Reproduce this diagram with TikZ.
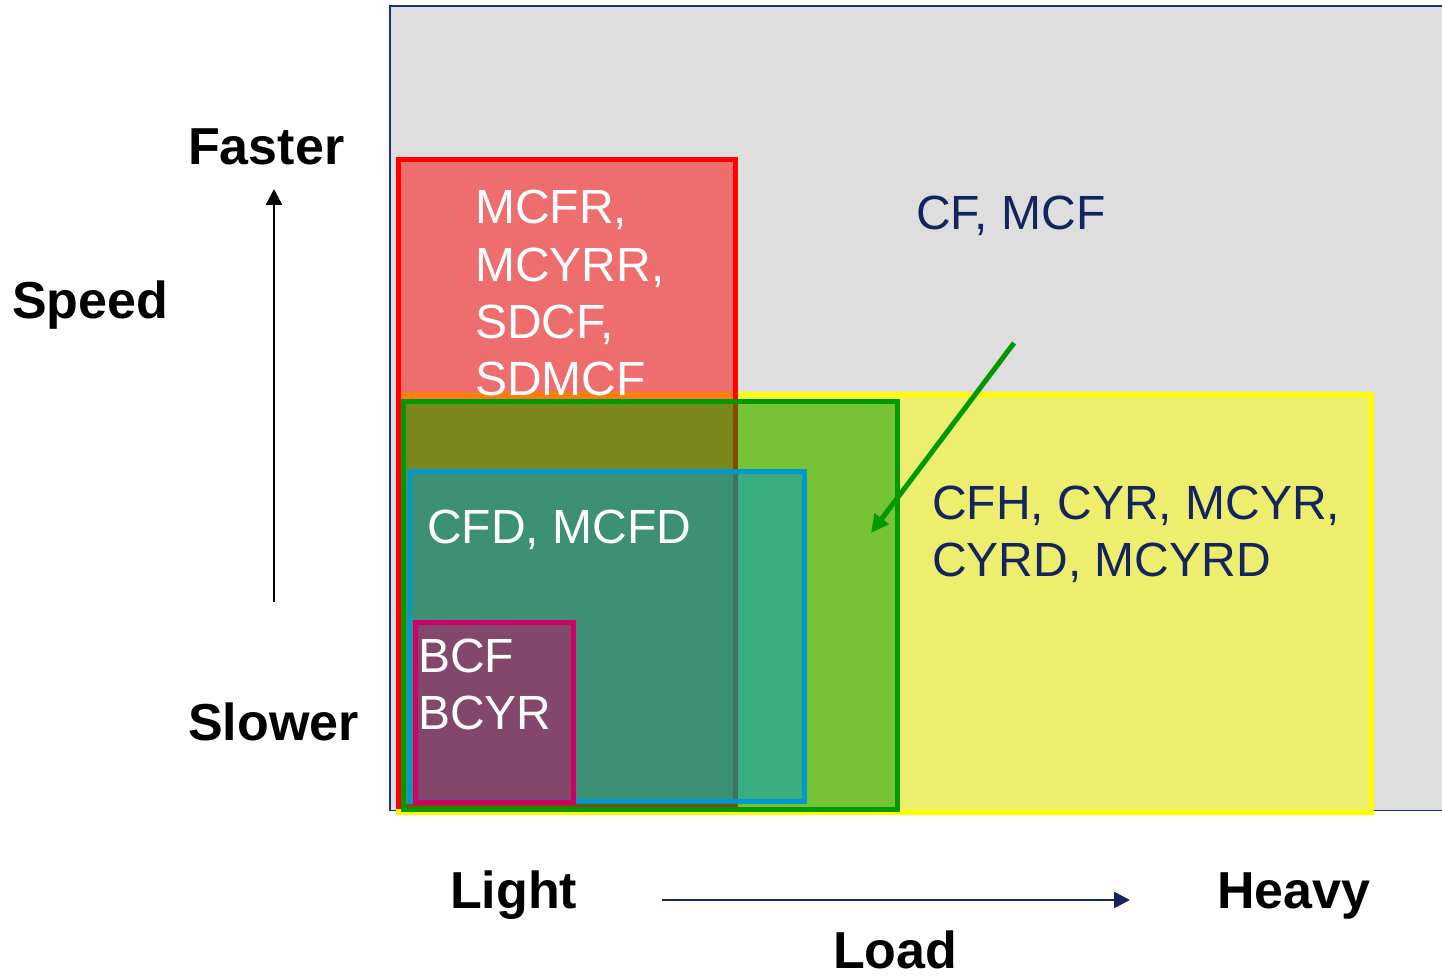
\documentclass[tikz,border=0pt]{standalone}
\usepackage{fontspec}
\setmainfont{Liberation Sans}
\usetikzlibrary{arrows.meta}
\definecolor{bggrey}{RGB}{222,222,222}
\definecolor{navyline}{RGB}{32,48,128}
\definecolor{navytext}{RGB}{20,36,94}
\definecolor{yelc}{RGB}{255,255,0}
\definecolor{redc}{RGB}{255,0,0}
\definecolor{greenc}{RGB}{0,153,0}
\definecolor{bluec}{RGB}{0,153,204}
\definecolor{magc}{RGB}{204,0,102}
\begin{document}
\begin{tikzpicture}[x=1pt,y=-1pt,
  zone/.style={line width=5pt, fill opacity=0.5, line join=miter},
  axislbl/.style={font=\fontsize{52}{60}\selectfont\bfseries, text=black, inner sep=0pt, anchor=base west},
  zonelbl/.style={font=\fontsize{48}{57}\selectfont, inner sep=0pt, anchor=base west},
  whitelbl/.style={zonelbl, text=white},
  navylbl/.style={zonelbl, text=navytext},
  axisarrow/.style={line width=2.5pt, -{Triangle[length=16pt,width=16pt]}},
]
\useasboundingbox (0,0) rectangle (1442,976);
\fill[white] (0,0) rectangle (1442,976);
% background region
\draw[navyline, line width=1.5pt, fill=bggrey] (390,6) rectangle (1460,810.5);
% zones
\draw[zone, draw=yelc, fill=yelc] (398,394.5) rectangle (1371,812);
\draw[zone, draw=redc, fill=redc] (398.5,160) rectangle (735,806);
\draw[zone, draw=greenc, fill=greenc] (403,401) rectangle (897.5,809.5);
\draw[zone, draw=bluec, fill=bluec] (409.5,471.5) rectangle (804,801.5);
\draw[zone, draw=magc, fill=magc] (415,622) rectangle (573.5,802);
% zone labels
\node[whitelbl] (r1) at (475,224) {MCFR,};
\node[whitelbl] (r2) at (475,281) {MCYRR,};
\node[whitelbl] (r3) at (475,338) {SDCF,};
\node[whitelbl] (r4) at (475,395) {SDMCF};
\node[navylbl] (cf) at (916,230) {CF, MCF};
\node[whitelbl] (cfd) at (427,543) {CFD, MCFD};
\node[navylbl] (y1) at (932,519) {CFH, CYR, MCYR,};
\node[navylbl] (y2) at (932,576) {CYRD, MCYRD};
\node[whitelbl] (b1) at (418,672) {BCF};
\node[whitelbl] (b2) at (418,729) {BCYR};
% axis labels
\node[axislbl] (faster) at (188,165) {Faster};
\node[axislbl] (speed) at (12,318) {Speed};
\node[axislbl] (slower) at (188,740) {Slower};
\node[axislbl] (light) at (450,908) {Light};
\node[axislbl] (heavy) at (1217,908) {Heavy};
\node[axislbl] (load) at (833,968) {Load};
% arrows
\coordinate (spdS) at (274,602);
\coordinate (spdE) at (274,189);
\draw[axisarrow, black] (spdS) -- (spdE);
\coordinate (ldS) at (662,900);
\coordinate (ldE) at (1130,900);
\draw[axisarrow, navytext] (ldS) -- (ldE);
\coordinate (gS) at (1014,343);
\coordinate (gE) at (871,533);
\draw[greenc, line width=5pt, -{Triangle[length=18pt,width=17pt]}] (gS) -- (gE);
\end{tikzpicture}
\end{document}
